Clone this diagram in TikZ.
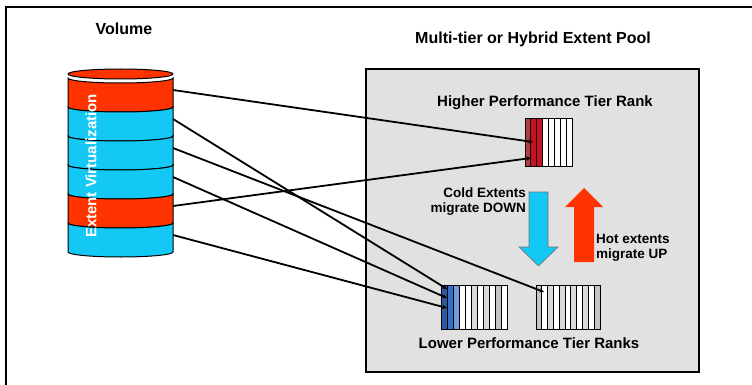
\documentclass[tikz,border=0pt]{standalone}
\usepackage{fontspec}
\setmainfont{Liberation Sans}
\usetikzlibrary{arrows.meta,positioning}
\definecolor{hotred}{HTML}{FF3300}
\definecolor{coldcyan}{HTML}{14C8F5}
\definecolor{poolgray}{HTML}{E1E1E1}
\definecolor{rankred}{HTML}{C8101E}
\definecolor{rankblue}{HTML}{3A6FC8}

\begin{document}
\begin{tikzpicture}[x=1pt, y=-1pt, font=\bfseries]
\useasboundingbox (0,0) rectangle (752,385);
\tikzset{
  link/.style={line width=1.8pt, -{Stealth[length=4.5pt,width=4pt]}},
  cell/.style={draw, line width=0.9pt},
  title/.style={inner sep=0pt, font=\fontsize{16}{18}\selectfont\bfseries},
  ranklabel/.style={inner sep=0pt, font=\fontsize{15}{17}\selectfont\bfseries},
  note/.style={inner sep=0pt, align=left, font=\fontsize{13.5}{15}\selectfont\bfseries}
}
\draw[line width=1.5pt] (6,385) -- (6,7) -- (752,7);
\node[title] (vol) at (124,29) {Volume};
\node[title] (pooltitle) at (533,39) {Multi-tier or Hybrid Extent Pool};
\filldraw[fill=poolgray, line width=1.2pt] (366,69) rectangle (699,372);

% volume
\foreach \i/\c in {0/hotred,1/coldcyan,2/coldcyan,3/coldcyan,4/hotred,5/coldcyan} {
  \pgfmathsetmacro{\yt}{78+29*\i}
  \pgfmathsetmacro{\yb}{\yt+29}
  \filldraw[fill=\c, line width=1pt] (68,\yt) -- (68,\yb)
    arc[start angle=180, end angle=0, x radius=52.5, y radius=5] -- (173,\yt)
    arc[start angle=0, end angle=180, x radius=52.5, y radius=5] -- cycle;
  \coordinate (band\i) at (173,\yt+12);
}
\filldraw[fill=hotred, line width=1pt] (120.5,74) ellipse[x radius=52.5, y radius=5];
\node[rotate=90, text=white, inner sep=0pt, font=\fontsize{15}{17}\selectfont\bfseries] (virt) at (91,166) {Extent Virtualization};

% ranks
\node[ranklabel] (hilabel) at (545,103) {Higher Performance Tier Rank};
\foreach \k/\c in {0/rankred!60!gray,1/rankred,2/rankred,3/white,4/white,5/white,6/white,7/white}
  \filldraw[cell, fill=\c] (525+\k*5.875,118) rectangle +(5.875,48);
\foreach \k/\c in {0/rankblue!80!black,1/rankblue,2/rankblue!70,3/white,4/white,5/gray!30,6/white,7/gray!30,8/white,9/gray!45,10/white}
  \filldraw[cell, fill=\c] (441+\k*6,285) rectangle +(6,44);
\foreach \k/\c in {0/gray!45,1/white,2/gray!30,3/white,4/gray!30,5/white,6/gray!30,7/white,8/gray!30,9/white,10/gray!45}
  \filldraw[cell, fill=\c] (536+\k*5.82,285) rectangle +(5.82,44);
\node[ranklabel] (lolabel) at (529,343) {Lower Performance Tier Ranks};

\coordinate (hi1) at (533,142);
\coordinate (hi2) at (531,158);
\coordinate (lo1) at (447,289);
\coordinate (lo2) at (447,298);
\coordinate (lo3) at (447,308);
\coordinate (lo4) at (544,292);

\draw[link] (band0) -- (hi1);
\draw[link] (band4) -- (hi2);
\draw[link] (band1) -- (lo1);
\draw[link] (band3) -- (lo2);
\draw[link] (band5) -- (lo3);
\draw[link] (band2) -- (lo4);

% migration
\filldraw[fill=coldcyan, draw=black!55, line width=0.6pt] (529,192) -- (548,192) -- (548,247) -- (558,247)
  -- (538.5,266) -- (519,247) -- (529,247) -- cycle;
\fill[hotred] (574,262) -- (594,262) -- (594,207) -- (603,207) -- (584,188) -- (565,207) -- (574,207) -- cycle;
\node[note, align=right, anchor=east] (cold) at (526,202) {Cold Extents\\migrate DOWN};
\node[note, anchor=west] (hot) at (596,248) {Hot extents\\migrate UP};
\end{tikzpicture}
\end{document}
